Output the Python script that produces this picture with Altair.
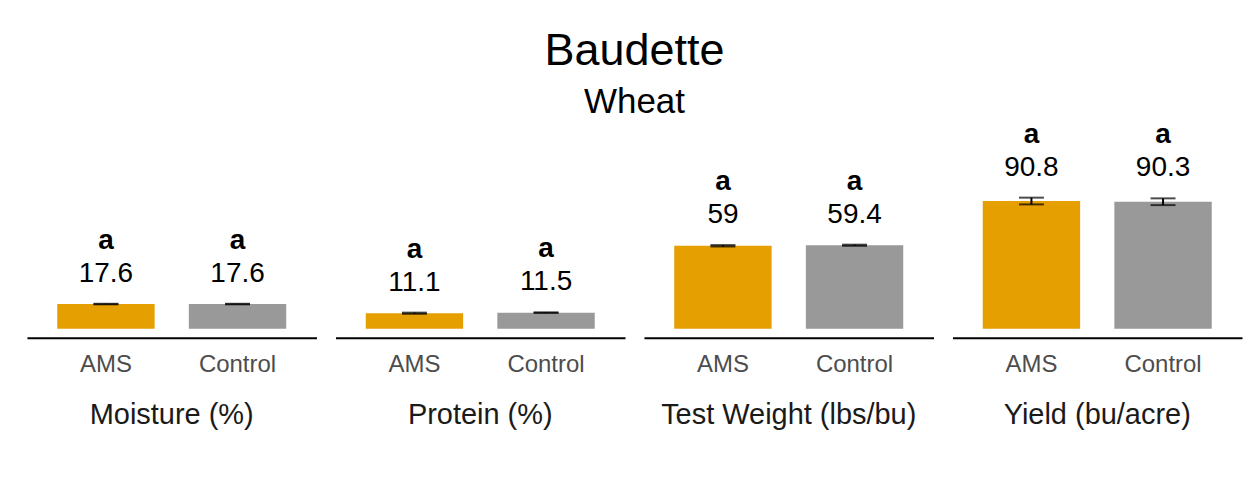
import altair as alt
import pandas as pd

metrics = ["Moisture (%)", "Protein (%)", "Test Weight (lbs/bu)", "Yield (bu/acre)"]
treatments = ["AMS", "Control"]
ams_means = [17.6, 11.1, 59.0, 90.8]
control_means = [17.6, 11.5, 59.4, 90.3]
ams_se = [0.2, 0.4, 0.5, 2.4]
control_se = [0.2, 0.2, 0.4, 2.4]
ams_letters = ["a", "a", "a", "a"]
control_letters = ["a", "a", "a", "a"]
colors = ["#E69F00", "#999999"]

rows = []
for i, m in enumerate(metrics):
    for t, means, ses, lets in [("AMS", ams_means, ams_se, ams_letters),
                                ("Control", control_means, control_se, control_letters)]:
        rows.append({"metric": m, "treatment": t, "mean": means[i],
                     "lo": means[i] - ses[i], "hi": means[i] + ses[i], "letter": lets[i]})
df = pd.DataFrame(rows)

FONT = "Liberation Sans"

x = alt.X("treatment:N", sort=treatments,
          scale=alt.Scale(paddingInner=0.26, paddingOuter=0.23),
          axis=alt.Axis(title=None, orient="bottom", offset=9, domainColor="black",
                        domainWidth=2, ticks=False, labelFontSize=24, labelColor="#4d4d4d",
                        labelFont=FONT, labelPadding=15, labelAngle=0, grid=False))
yscale = alt.Scale(domain=[0, 144], nice=False, zero=True)

bars = alt.Chart().mark_bar().encode(
    x=x,
    y=alt.Y("mean:Q", scale=yscale, axis=None),
    color=alt.Color("treatment:N", scale=alt.Scale(domain=treatments, range=colors), legend=None),
)
rule = alt.Chart().mark_rule(color="black", strokeWidth=2).encode(
    x=x, y=alt.Y("lo:Q", scale=yscale, axis=None), y2="hi:Q")
tick_lo = alt.Chart().mark_tick(color="black", thickness=2, size=25).encode(
    x=x, y=alt.Y("lo:Q", scale=yscale, axis=None))
tick_hi = alt.Chart().mark_tick(color="black", thickness=2, size=25).encode(
    x=x, y=alt.Y("hi:Q", scale=yscale, axis=None))
val_text = alt.Chart().mark_text(fontSize=28, font=FONT, dy=-30, baseline="middle", color="black").encode(
    x=x, y=alt.Y("hi:Q", scale=yscale, axis=None), text=alt.Text("mean:Q", format=".1~f"))
let_text = alt.Chart().mark_text(fontSize=28, font=FONT, fontWeight="bold", dy=-63,
                                 baseline="middle", color="black").encode(
    x=x, y=alt.Y("hi:Q", scale=yscale, axis=None), text="letter:N")

layered = alt.layer(bars, rule, tick_lo, tick_hi, val_text, let_text, data=df).properties(
    width=290, height=203)

chart = layered.facet(
    column=alt.Column("metric:N", sort=metrics,
                      header=alt.Header(title=None, labelOrient="bottom", labelFontSize=29,
                                        labelFont=FONT, labelColor="#1a1a1a", labelPadding=24)),
    spacing=19,
).properties(
    title=alt.Title("Baudette", subtitle="Wheat", fontSize=45, subtitleFontSize=35,
                    font=FONT, subtitleFont=FONT, fontWeight="normal", color="black",
                    subtitleColor="black", anchor="middle", offset=1, subtitlePadding=11),
    padding={"left": 19, "top": 20, "right": 5, "bottom": 5},
    background="white",
).configure_view(stroke="transparent", strokeWidth=0)

chart.save("out.html", embed_options={"renderer": "svg", "actions": False})
